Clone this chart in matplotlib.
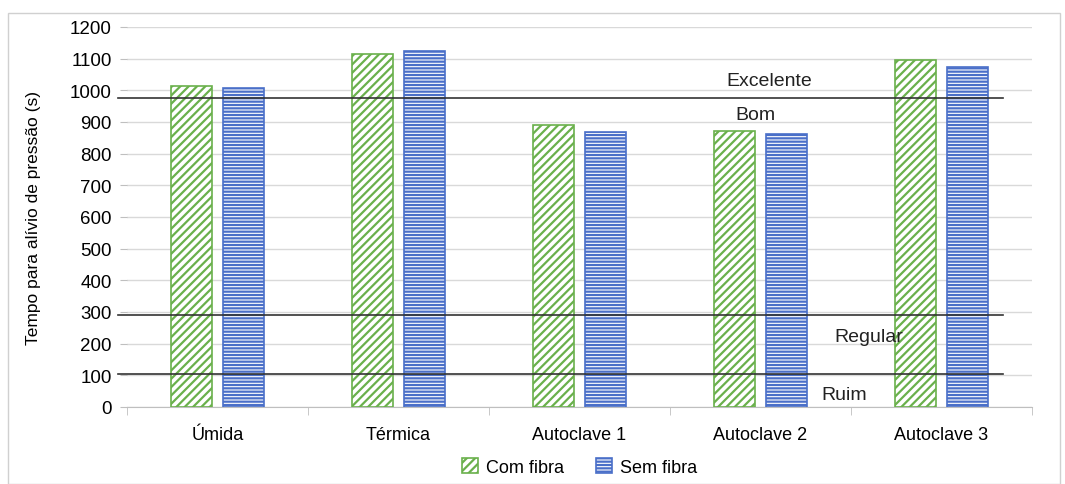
import matplotlib
matplotlib.use('Agg')
import matplotlib.pyplot as plt
import numpy as np
from matplotlib.patches import Rectangle

categorias = ['Úmida', 'Térmica', 'Autoclave 1', 'Autoclave 2', 'Autoclave 3']
com_fibra = [1013, 1114, 890, 872, 1096]
sem_fibra = [1007, 1125, 868, 862, 1074]
limites = [975, 290, 105]
classes = ['Excelente', 'Bom', 'Regular', 'Ruim']
classes_y = [1030, 925, 222, 38]
classes_x = [3.05, 2.97, 3.60, 3.46]

plt.rcParams['font.family'] = ['Liberation Sans', 'DejaVu Sans']
plt.rcParams['hatch.linewidth'] = 1.6

fig = plt.figure(figsize=(10.65, 4.85), dpi=100)
fig.patches.append(Rectangle((8 / 1065, 0.0), 1052 / 1065, 1 - 14 / 485, transform=fig.transFigure,
                             fill=False, edgecolor='#d0d0d0', lw=1))
ax = fig.add_axes([127 / 1065, 1 - 408 / 485, 905 / 1065, 380 / 485])

x = np.arange(len(categorias))
w = 0.225
ax.bar(x - 0.255 + w / 2, com_fibra, w, color='white', edgecolor='#6ab04c', hatch='////',
       lw=1.2, label='Com fibra', zorder=3)
ax.bar(x + 0.03 + w / 2, sem_fibra, w, color='white', edgecolor='#4a6fc8', hatch='-----',
       lw=1.2, label='Sem fibra', zorder=3)

for v in limites:
    ax.plot([-0.55, 4.34], [v, v], color='#333333', lw=1.2, zorder=4, clip_on=False)
for t, tx, ty in zip(classes, classes_x, classes_y):
    ax.text(tx, ty, t, fontsize=14, ha='center', va='center', color='#222222', zorder=5)

ax.set_xlim(-0.5, 4.5)
ax.set_ylim(0, 1200)
ax.set_yticks(range(0, 1201, 100))
ax.yaxis.grid(True, color='#d9d9d9', lw=1, zorder=0)
ax.set_axisbelow(True)
ax.set_xticks(x)
ax.set_xticklabels(categorias, fontsize=13)
ax.set_xticks(np.arange(-0.5, 5, 1), minor=True)
ax.tick_params(axis='x', which='major', length=0, pad=14)
ax.tick_params(axis='x', which='minor', length=6, color='#bfbfbf')
ax.tick_params(axis='y', length=5, color='#bfbfbf', labelsize=13.5, pad=6)
for s in ['top', 'right', 'left']:
    ax.spines[s].set_visible(False)
ax.spines['bottom'].set_color('#bfbfbf')
ax.set_ylabel('Tempo para alívio de pressão (s)', fontsize=12.5)
ax.yaxis.set_label_coords(-0.095, 0.5)

ax.legend(loc='lower center', bbox_to_anchor=(0.5, -0.215), ncol=2, frameon=False,
          fontsize=13, handlelength=0.9, handleheight=0.9, columnspacing=1.8, handletextpad=0.4,
          borderpad=0.2)

fig.savefig('out.png', dpi=100)
